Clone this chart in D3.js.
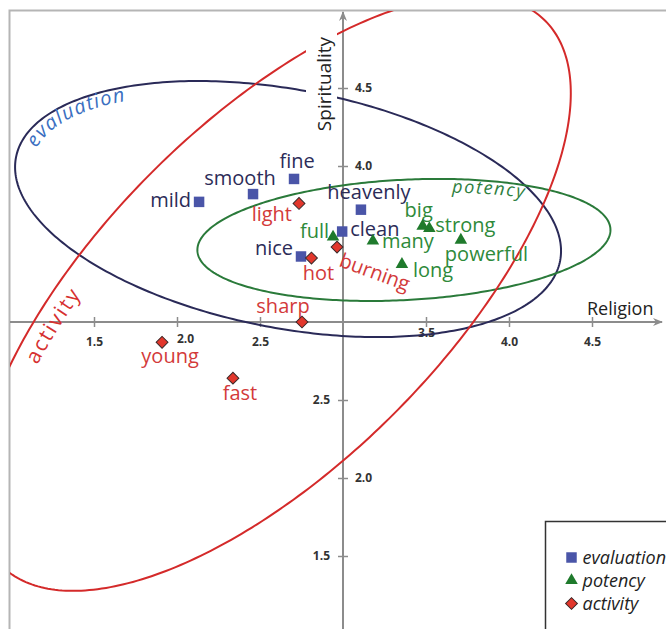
<!DOCTYPE html>
<html><head><meta charset="utf-8">
<script src="https://cdn.jsdelivr.net/npm/d3@7"></script>
<style>body{margin:0;background:#fff} svg{display:block}</style>
</head><body>
<svg id="chart" width="666" height="629"></svg>
<script>
// ---------------- data ----------------
const categories = ["evaluation", "potency", "activity"];

const evaluationWords = ["fine", "smooth", "mild", "nice", "heavenly", "clean"];
const evaluationX = [2.705, 2.458, 2.133, 2.747, 3.108, 2.995];
const evaluationY = [3.917, 3.82, 3.77, 3.42, 3.72, 3.58];

const potencyWords = ["full", "big", "strong", "many", "powerful", "long"];
const potencyX = [2.94, 3.48, 3.52, 3.18, 3.71, 3.355];
const potencyY = [3.545, 3.615, 3.60, 3.52, 3.525, 3.37];

const activityWords = ["light", "hot", "burning", "sharp", "young", "fast"];
const activityX = [2.735, 2.81, 2.964, 2.753, 1.91, 2.337];
const activityY = [3.76, 3.41, 3.48, 3.0, 2.87, 2.64];

const xTicks = [1.5, 2.0, 2.5, 3.5, 4.0, 4.5];
const yTicks = [1.5, 2.0, 2.5, 4.0, 4.5];

// cluster ellipses (data units): centre and two semi-axis vectors
const ellipseCenter = [[2.669, 3.724], [3.367, 3.526], [2.578, 3.186]];
const ellipseAxisU  = [[1.639, -0.331], [1.244, 0.070], [1.640, 1.745]];
const ellipseAxisV  = [[-0.134, -0.751], [0.019, -0.385], [0.728, -0.775]];

// ---------------- styling / layout ----------------
const FONT = "'Open Sans', 'Noto Sans', sans-serif";
const style = {
  evaluation: {mark: "#4a55a8", text: "#2c2c58", ring: "#2a2a58", tag: "#3b6fc1"},
  potency:    {mark: "#1f7a2c", text: "#2e8a3a", ring: "#2a7a3a", tag: "#2e8040"},
  activity:   {mark: "#e2372c", text: "#d33a3a", ring: "#d42a2a", tag: "#d63030"}
};
const labelLayout = {
  fine: [3, -11, "middle"], smooth: [-13, -9, "middle"], mild: [-8, 5, "end"], nice: [-8, -1, "end"],
  heavenly: [8, -11, "middle"], clean: [8, 4, "start"],
  full: [-4, 1, "end"], big: [-4, -9, "middle"], strong: [6, 4, "start"], many: [9, 7, "start"],
  powerful: [-16, 21, "start"], long: [11, 13, "start"],
  light: [-7, 18, "end"], hot: [7, 22, "middle"], burning: [1, 19, "start", 20], sharp: [-19, -9, "middle"],
  young: [8, 21, "middle"], fast: [7, 22, "middle"]
};
const tagLayout = {
  evaluation: {shrink: [0.94, 0.88], t0: -3.02, t1: -1.2, size: 20, italic: true, spacing: 1.2},
  potency:    {shrink: [0.933, 0.767], t0: -1.306, t1: 0.2, size: 18, italic: true, spacing: 1.6},
  activity:   {shrink: [0.935, 0.85], t0: -2.22, t1: -1.3, size: 21, italic: false, spacing: 2}
};

const svg = d3.select("#chart");
const x = d3.scaleLinear().domain([1, 5]).range([11, 675]);
const y = d3.scaleLinear().domain([1, 5]).range([634, 10]);

const defs = svg.append("defs");
defs.append("clipPath").attr("id", "frameClip")
  .append("rect").attr("x", 10).attr("y", 11).attr("width", 660).attr("height", 625);
defs.append("marker").attr("id", "arrow").attr("viewBox", "0 0 10 8")
  .attr("refX", 9).attr("refY", 4).attr("markerWidth", 11).attr("markerHeight", 8)
  .attr("markerUnits", "userSpaceOnUse").attr("orient", "auto")
  .append("path").attr("d", "M0,0 L10,4 L0,8 L3,4 z").attr("fill", "#8c8c8c");

// frame
svg.append("rect").attr("x", 9.5).attr("y", 10.5).attr("width", 700).attr("height", 700)
  .attr("fill", "none").attr("stroke", "#b5b5b5").attr("stroke-width", 2);

// axes lines
svg.append("line").attr("x1", 10).attr("x2", 662).attr("y1", y(3)).attr("y2", y(3))
  .attr("stroke", "#8c8c8c").attr("stroke-width", 2).attr("marker-end", "url(#arrow)");
svg.append("line").attr("x1", x(3)).attr("x2", x(3)).attr("y1", 629).attr("y2", 12)
  .attr("stroke", "#8c8c8c").attr("stroke-width", 2).attr("marker-end", "url(#arrow)");

// x ticks
const xShift = {2: [8, -3], 3.5: [0, -9]};
const gx = svg.append("g").attr("transform", `translate(0,${y(3)})`)
  .call(d3.axisBottom(x).tickValues(xTicks).tickFormat(d3.format(".1f")).tickSize(5).tickPadding(10));
gx.select(".domain").remove();
gx.selectAll(".tick line").attr("y1", -5).attr("stroke", "#8c8c8c").attr("stroke-width", 1.5);
gx.selectAll(".tick text")
  .attr("font-family", FONT).attr("font-size", 12).attr("font-weight", 700).attr("fill", "#333")
  .attr("dx", d => (xShift[d] || [0, 0])[0]).attr("transform", d => `translate(0,${(xShift[d] || [0, 0])[1]})`);

// y ticks
const ySide = {1.5: "left", 2: "right", 2.5: "left", 4: "right", 4.5: "right"};
const gy = svg.append("g").attr("transform", `translate(${x(3)},0)`)
  .call(d3.axisRight(y).tickValues(yTicks).tickFormat(d3.format(".1f")).tickSize(5).tickPadding(7));
gy.select(".domain").remove();
gy.selectAll(".tick line").attr("x1", -5).attr("stroke", "#8c8c8c").attr("stroke-width", 1.5);
gy.selectAll(".tick text")
  .attr("font-family", FONT).attr("font-size", 12).attr("font-weight", 700).attr("fill", "#333")
  .attr("text-anchor", d => ySide[d] === "left" ? "end" : "start")
  .attr("x", d => ySide[d] === "left" ? -13 : 12);

// ellipses
const tt = d3.range(0, 361).map(d => d * Math.PI / 180);
function ellipsePts(i, ku, kv, ts) {
  const [cx, cy] = ellipseCenter[i], [ux, uy] = ellipseAxisU[i], [vx, vy] = ellipseAxisV[i];
  return ts.map(t => [cx + ku * ux * Math.cos(t) + kv * vx * Math.sin(t),
                      cy + ku * uy * Math.cos(t) + kv * vy * Math.sin(t)]);
}
const line = d3.line().x(d => x(d[0])).y(d => y(d[1]));
const gE = svg.append("g").attr("clip-path", "url(#frameClip)");
categories.forEach((c, i) => {
  gE.append("path").attr("d", line.curve(d3.curveLinearClosed)(ellipsePts(i, 1, 1, tt)))
    .attr("fill", "none").attr("stroke", style[c].ring).attr("stroke-width", 2);
});
line.curve(d3.curveLinear);
// cluster tags along ellipses
categories.forEach((c, i) => {
  const L = tagLayout[c];
  const ts = d3.range(0, 101).map(k => L.t0 + (L.t1 - L.t0) * k / 100);
  defs.append("path").attr("id", "tag-" + c).attr("d", line(ellipsePts(i, L.shrink[0], L.shrink[1], ts)));
  svg.append("text").attr("font-family", FONT).attr("font-size", L.size)
    .attr("font-style", L.italic ? "italic" : "normal").attr("letter-spacing", L.spacing)
    .attr("fill", style[c].tag)
    .append("textPath").attr("href", "#tag-" + c).text(c);
});

// Spirituality axis title with white background
svg.append("rect").attr("x", 306).attr("y", 28).attr("width", 31).attr("height", 112).attr("fill", "#fff");
svg.append("text").attr("transform", "translate(331,84) rotate(-90)").attr("text-anchor", "middle")
  .attr("font-family", FONT).attr("font-size", 19).attr("fill", "#222").text("Spirituality");
svg.append("text").attr("x", 587).attr("y", 315)
  .attr("font-family", FONT).attr("font-size", 18).attr("fill", "#222").text("Religion");

// points + labels
const series = {
  evaluation: {w: evaluationWords, x: evaluationX, y: evaluationY},
  potency: {w: potencyWords, x: potencyX, y: potencyY},
  activity: {w: activityWords, x: activityX, y: activityY}
};
const symbolFor = {
  evaluation: d3.symbol(d3.symbolSquare, 110)(),
  potency: d3.symbol(d3.symbolTriangle, 68)(),
  activity: d3.symbol(d3.symbolSquare, 70)()
};
const gL = svg.append("g"), gP = svg.append("g");
categories.forEach(c => {
  const s = series[c];
  s.w.forEach((w, k) => {
    const px = x(s.x[k]), py = y(s.y[k]);
    const p = gP.append("path").attr("d", symbolFor[c]).attr("fill", style[c].mark)
      .attr("transform", `translate(${px},${py})` + (c === "activity" ? " rotate(45)" : ""));
    if (c === "activity") p.attr("stroke", "#3a2a2a").attr("stroke-width", 1);
    const L = labelLayout[w];
    const tx = px + L[0], ty = py + L[1];
    gL.append("text").attr("x", tx).attr("y", ty).attr("text-anchor", L[2])
      .attr("transform", L[3] ? `rotate(${L[3]},${tx},${ty})` : null)
      .attr("font-family", FONT).attr("font-size", 20).attr("fill", style[c].text).text(w);
  });
});

// legend
const lg = svg.append("g").attr("transform", "translate(545.5,521.5)");
lg.append("rect").attr("width", 200).attr("height", 200).attr("fill", "#fff")
  .attr("stroke", "#333").attr("stroke-width", 1.5);
categories.forEach((c, i) => {
  const yy = 36 + i * 23;
  lg.append("path").attr("d", symbolFor[c]).attr("fill", style[c].mark)
    .attr("transform", `translate(26,${yy})` + (c === "activity" ? " rotate(45)" : ""))
    .attr("stroke", c === "activity" ? "#3a2a2a" : null).attr("stroke-width", 1);
  lg.append("text").attr("x", 37).attr("y", yy + 6).attr("font-family", FONT)
    .attr("font-size", 18).attr("font-style", "italic").attr("fill", "#222").text(c);
});
</script>
</body></html>
